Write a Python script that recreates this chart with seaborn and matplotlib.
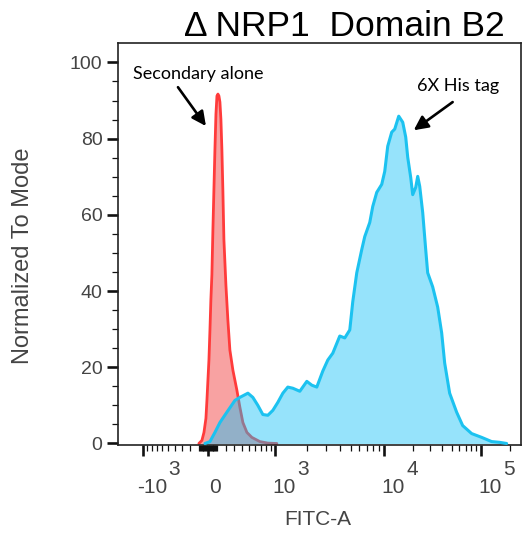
import numpy as np
import matplotlib
matplotlib.use("Agg")
import matplotlib.pyplot as plt
from matplotlib.ticker import FixedLocator, NullFormatter
import seaborn as sns

# ---- histogram data (FITC-A intensity, % of mode) ----
secondary_fitc = [-101, -67, -44, -22, -11, 11, 22, 32, 43, 54, 65, 76, 87, 98, 109,
                  120, 131, 142, 153, 164, 176, 199, 222, 246, 283, 333, 373, 414,
                  472, 548, 685, 842, 1047]
secondary_pct = [0, 0.8, 2.9, 6.6, 11.3, 21.9, 29.8, 37.7, 44.3, 56.1, 66.7, 77.2,
                 86.4, 91.2, 91.7, 91.2, 89.6, 85.1, 77.2, 66.7, 53.5, 41.6, 32.4,
                 24.5, 19.2, 14.0, 9.5, 5.5, 2.9, 1.6, 0.5, 0.1, 0]

his_fitc = [-33, 22, 76, 131, 210, 308, 373, 487, 564, 649, 741, 842, 953, 1071,
            1198, 1337, 1491, 1733, 2011, 2234, 2481, 2812, 3121, 3462, 4001, 4437,
            4919, 5232, 5682, 6298, 6699, 7424, 7896, 8571, 9498, 10120, 10870,
            11960, 12850, 14140, 15560, 16710, 17530, 18830, 19750, 21210, 22250,
            23340, 25070, 26930, 28240, 31820, 35850, 39450, 42370, 47720, 56400,
            65100, 80650, 102500, 130000, 157400, 186000]
his_pct = [0, 0.5, 2.9, 5.5, 8.2, 11.3, 12.1, 13.2, 12.1, 10.0, 7.6, 7.4, 8.7, 10.8,
           13.2, 14.8, 14.5, 13.7, 16.3, 15.3, 14.8, 19.0, 21.9, 23.7, 28.2, 27.7,
           29.8, 37.2, 44.8, 50.9, 54.3, 58.0, 62.2, 65.9, 68.0, 71.4, 78.0, 81.7,
           82.5, 85.9, 84.3, 80.4, 75.1, 69.8, 65.3, 67.2, 70.1, 67.5, 60.6, 50.9,
           44.8, 41.1, 35.8, 29.0, 21.1, 13.2, 8.2, 4.7, 2.6, 1.6, 0.5, 0.3, 0]

major_ticks = [-1e3, 0, 1e3, 1e4, 1e5]
major_labels = [("-10", "3"), ("0", ""), ("10", "3"), ("10", "4"), ("10", "5")]
minor_ticks = ([-v for v in range(100, 1000, 100)] + [-v for v in range(10, 100, 10)]
               + list(range(10, 100, 10)) + list(range(100, 1000, 100))
               + list(range(2000, 10000, 1000)) + list(range(20000, 100000, 10000))
               + [200000])
x_max = 262144

# ---- biexponential display scale (asinh, piecewise between decade anchors) ----
BIEX_W = 500.0
ANCHOR_VALUES = np.array([-1e3, 0.0, 1e3, 1e4, 1e5])
ANCHOR_POS = np.array([-0.65, 0.0, 0.67, 1.765, 2.73])
_U = np.arcsinh(ANCHOR_VALUES / BIEX_W)
_SLO = (ANCHOR_POS[1] - ANCHOR_POS[0]) / (_U[1] - _U[0])
_SHI = (ANCHOR_POS[-1] - ANCHOR_POS[-2]) / (_U[-1] - _U[-2])


def biex(x):
    u = np.arcsinh(np.asarray(x, dtype=float) / BIEX_W)
    p = np.interp(u, _U, ANCHOR_POS)
    p = np.where(u < _U[0], ANCHOR_POS[0] + (u - _U[0]) * _SLO, p)
    p = np.where(u > _U[-1], ANCHOR_POS[-1] + (u - _U[-1]) * _SHI, p)
    return p


def biex_inv(p):
    p = np.asarray(p, dtype=float)
    u = np.interp(p, ANCHOR_POS, _U)
    u = np.where(p < ANCHOR_POS[0], _U[0] + (p - ANCHOR_POS[0]) / _SLO, u)
    u = np.where(p > ANCHOR_POS[-1], _U[-1] + (p - ANCHOR_POS[-1]) / _SHI, u)
    return BIEX_W * np.sinh(u)


sns.set_style("ticks")
plt.rcParams["font.family"] = ["Liberation Sans", "DejaVu Sans"]

fig = plt.figure(figsize=(5.23, 5.33), dpi=100)
ax = fig.add_axes([118 / 523, 1 - 445 / 533, 403 / 523, 402 / 533])
ax.set_xscale("function", functions=(biex, biex_inv))

# secondary-only control (red), then 6X His stain (blue, translucent on top)
ax.fill_between(secondary_fitc, secondary_pct, 0, color="#f8a2a2", lw=0, zorder=1)
sns.lineplot(x=secondary_fitc, y=secondary_pct, ax=ax, color="#ff3b3b", lw=2,
             sort=False, estimator=None, zorder=2)
ax.fill_between(his_fitc, his_pct, 0, color="#16c3f7", alpha=0.45, lw=0, zorder=3)
sns.lineplot(x=his_fitc, y=his_pct, ax=ax, color="#1cc2f0", lw=2.2,
             sort=False, estimator=None, zorder=4)

ax.set_xlim(float(biex_inv(-0.90)), x_max)
ax.set_ylim(-0.4, 105.1)

# axes frame and ticks
for s in ax.spines.values():
    s.set_color("#222222")
    s.set_linewidth(1.2)
ax.xaxis.set_major_locator(FixedLocator(major_ticks))
ax.xaxis.set_minor_locator(FixedLocator(minor_ticks))
ax.xaxis.set_major_formatter(NullFormatter())
ax.xaxis.set_minor_formatter(NullFormatter())
ax.tick_params(axis="x", which="major", direction="out", length=7.7, width=1.9, color="#111111")
ax.tick_params(axis="x", which="minor", direction="out", length=4.1, width=0.9, color="#111111")
ax.set_yticks(np.arange(0, 101, 20))
ax.set_yticks(np.arange(0, 101, 5), minor=True)
ax.tick_params(axis="y", which="major", direction="out", length=8.2, width=1.9,
               color="#111111", labelsize=14, labelcolor="#444444", pad=3)
ax.tick_params(axis="y", which="minor", direction="out", length=4.6, width=0.9, color="#111111")

# FlowJo-style decade labels: base with a full-size raised exponent
for val, (base, exp) in zip(major_ticks, major_labels):
    if not exp:
        ax.annotate(base, xy=(val, 0), xycoords=("data", "axes fraction"),
                    xytext=(7, -48), textcoords="offset pixels", ha="center",
                    va="baseline", fontsize=15, color="#444444")
        continue
    dx = 24 if val < 0 else 21
    ax.annotate(base, xy=(val, 0), xycoords=("data", "axes fraction"),
                xytext=(dx, -48), textcoords="offset pixels", ha="right",
                va="baseline", fontsize=15, color="#444444")
    ax.annotate(exp, xy=(val, 0), xycoords=("data", "axes fraction"),
                xytext=(dx + 1.5, -30), textcoords="offset pixels", ha="left",
                va="baseline", fontsize=15, color="#444444")

ax.set_xlabel("FITC-A", fontsize=15, color="#444444")
ax.xaxis.set_label_coords(0.496, -0.162)
ax.set_ylabel("Normalized To Mode", fontsize=17, color="#444444", va="center")
ax.yaxis.set_label_coords(-0.2345, 0.47)

# callouts
note_font = dict(family=["Lato", "DejaVu Sans"], fontsize=13, color="black")
arrow_style = dict(arrowstyle="-|>,head_length=0.85,head_width=0.42",
                   color="black", lw=1.9, shrinkA=0, shrinkB=0)
ax.text(-112, 97.0, "Secondary alone", ha="center", va="center", **note_font)
ax.annotate("", xy=(-22, 83.3), xytext=(-358, 93.5), arrowprops=arrow_style)
ax.text(57760, 93.8, "6X His tag", ha="center", va="center", **note_font)
ax.annotate("", xy=(20230, 82.2), xytext=(51270, 89.6), arrowprops=arrow_style)

fig.text(505 / 523, 1 - 36 / 533, "\u0394 NRP1  Domain B2", ha="right", va="baseline",
         fontsize=25.5, color="black")

fig.savefig("out.png", dpi=100)
